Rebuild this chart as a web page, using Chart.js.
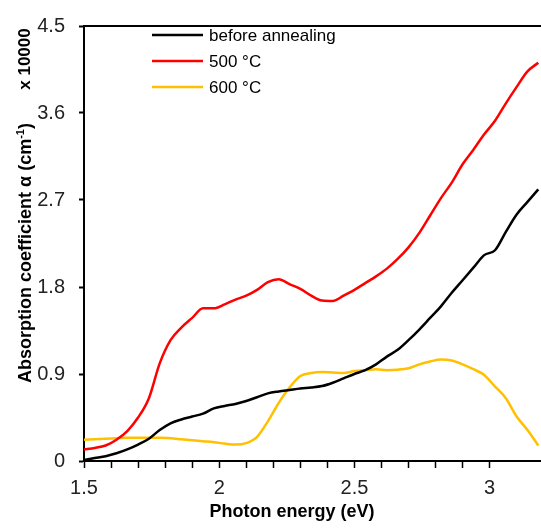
<!DOCTYPE html>
<html><head><meta charset="utf-8">
<script src="https://cdn.jsdelivr.net/npm/chart.js@4.4.1/dist/chart.umd.min.js"></script>
<style>html,body{margin:0;padding:0;background:#fff;}#wrap{width:541px;height:528px;}</style>
</head><body><div id="wrap"><canvas id="c" width="541" height="528"></canvas></div>
<script>
// Photon energy (eV)
const energy = [1.50,1.54,1.58,1.62,1.66,1.70,1.74,1.78,1.82,1.86,1.90,1.94,1.98,2.02,2.06,2.10,2.14,2.18,2.22,2.26,2.30,2.34,2.38,2.42,2.46,2.50,2.54,2.58,2.62,2.66,2.70,2.74,2.78,2.82,2.86,2.90,2.94,2.98,3.02,3.06,3.10,3.14,3.18];
// Absorption coefficient (x 10000 cm^-1)
const beforeAnnealing = [0.01,0.03,0.05,0.08,0.12,0.17,0.23,0.32,0.39,0.43,0.46,0.49,0.545,0.57,0.59,0.62,0.66,0.70,0.72,0.735,0.75,0.76,0.775,0.81,0.855,0.90,0.94,1.00,1.08,1.15,1.25,1.36,1.48,1.60,1.74,1.87,2.00,2.13,2.18,2.37,2.55,2.68,2.81];
const anneal500 = [0.12,0.135,0.16,0.22,0.31,0.45,0.65,1.01,1.25,1.38,1.48,1.58,1.58,1.62,1.67,1.71,1.77,1.85,1.88,1.83,1.78,1.71,1.66,1.655,1.71,1.77,1.84,1.91,1.99,2.09,2.21,2.36,2.54,2.72,2.88,3.07,3.22,3.38,3.52,3.70,3.87,4.03,4.12];
const anneal600 = [0.22,0.225,0.23,0.235,0.24,0.24,0.24,0.24,0.235,0.225,0.215,0.205,0.195,0.18,0.17,0.185,0.25,0.41,0.60,0.76,0.88,0.91,0.92,0.915,0.91,0.93,0.94,0.95,0.94,0.945,0.96,1.00,1.03,1.05,1.04,1.00,0.95,0.89,0.77,0.65,0.46,0.32,0.16];
const seriesLabels = ['before annealing','500 °C','600 °C'];
const seriesColors = ['#000000','#ff0000','#ffc000'];
const yTicks = [0,0.9,1.8,2.7,3.6,4.5];
const yTickLabels = ['0','0.9','1.8','2.7','3.6','4.5'];
const xTickLabels = [1.5,2,2.5,3];

const tickFont = {family:"'Liberation Sans',Arial,sans-serif", size:20};
const series = [beforeAnnealing, anneal500, anneal600];

const overlay = {
  id:'overlay',
  afterDraw(chart){
    const ctx = chart.ctx, a = chart.chartArea;
    ctx.save();
    // top frame line
    ctx.strokeStyle='#000'; ctx.lineWidth=2;
    ctx.beginPath(); ctx.moveTo(a.left, a.top); ctx.lineTo(chart.width, a.top); ctx.stroke();
    // legend
    ctx.font = "17px 'Liberation Sans',Arial,sans-serif";
    ctx.textBaseline='middle'; ctx.textAlign='left';
    chart.data.datasets.forEach((d,i)=>{
      const y = 35 + i*26;
      ctx.strokeStyle=d.borderColor; ctx.lineWidth=2.5;
      ctx.beginPath(); ctx.moveTo(152,y); ctx.lineTo(203,y); ctx.stroke();
      ctx.fillStyle='#000'; ctx.fillText(d.label, 209, y+1);
    });
    // x title
    ctx.font = "bold 18px 'Liberation Sans',Arial,sans-serif";
    ctx.textAlign='center'; ctx.textBaseline='middle'; ctx.fillStyle='#000';
    ctx.fillText('Photon energy (eV)', 292, 512);
    // y title (rotated) with superscript
    ctx.save();
    ctx.translate(26, 253); ctx.rotate(-Math.PI/2);
    const main = 'Absorption coefficient α (cm', sup = '-1', end = ')';
    ctx.font = "bold 18px 'Liberation Sans',Arial,sans-serif";
    const w1 = ctx.measureText(main).width, w3 = ctx.measureText(end).width;
    ctx.font = "bold 11px 'Liberation Sans',Arial,sans-serif";
    const w2 = ctx.measureText(sup).width;
    let x0 = -(w1+w2+w3)/2;
    ctx.textAlign='left';
    ctx.font = "bold 18px 'Liberation Sans',Arial,sans-serif";
    ctx.fillText(main, x0, 0);
    ctx.font = "bold 11px 'Liberation Sans',Arial,sans-serif";
    ctx.fillText(sup, x0+w1, -5);
    ctx.font = "bold 18px 'Liberation Sans',Arial,sans-serif";
    ctx.fillText(end, x0+w1+w2, 0);
    ctx.restore();
    // multiplier
    ctx.save();
    ctx.translate(25, 59); ctx.rotate(-Math.PI/2);
    ctx.font = "bold 17px 'Liberation Sans',Arial,sans-serif";
    ctx.textAlign='center'; ctx.textBaseline='middle';
    ctx.fillText('x 10000', 0, 0);
    ctx.restore();
    ctx.restore();
  }
};

new Chart(document.getElementById('c'), {
  type:'line',
  data:{
    datasets: series.map((vals,i)=>({
      label: seriesLabels[i],
      data: energy.map((x,j)=>({x, y: vals[j]})),
      borderColor: seriesColors[i],
      backgroundColor: seriesColors[i],
      borderWidth: 2.5,
      pointRadius: 0,
      cubicInterpolationMode: 'monotone',
      fill: false
    }))
  },
  options:{
    responsive:false,
    animation:false,
    devicePixelRatio:1,
    layout:{padding:{top:16,right:0,left:0,bottom:0}},
    plugins:{legend:{display:false}, tooltip:{enabled:false}},
    scales:{
      x:{
        type:'linear', min:1.5, max:3.19,
        afterFit(s){ s.height = 67; },
        afterBuildTicks(s){
          s.ticks = s.ticks.filter(t => Math.abs(t.value*10 - Math.round(t.value*10)) < 1e-6 && t.value <= 3.15);
        },
        ticks:{
          stepSize:0.1, autoSkip:false, maxRotation:0, padding:8,
          color:'#222', font:tickFont,
          callback(v){ const m = xTickLabels.find(l => Math.abs(l - v) < 1e-6); return m === undefined ? '' : String(m); }
        },
        grid:{drawOnChartArea:false, drawTicks:true, tickLength:7, tickColor:'#000', tickWidth:1.5},
        border:{display:true, color:'#000', width:2}
      },
      y:{
        type:'linear', min:0, max:4.5,
        afterFit(s){ s.width = 84; },
        afterBuildTicks(s){ s.ticks = yTicks.map(v => ({value:v})); },
        ticks:{
          padding:14, color:'#222', font:tickFont,
          callback(v, i){ return yTickLabels[i]; }
        },
        grid:{drawOnChartArea:false, drawTicks:true, tickLength:5, tickColor:'#000', tickWidth:2},
        border:{display:true, color:'#000', width:2}
      }
    }
  },
  plugins:[overlay]
});
</script>
</body></html>
